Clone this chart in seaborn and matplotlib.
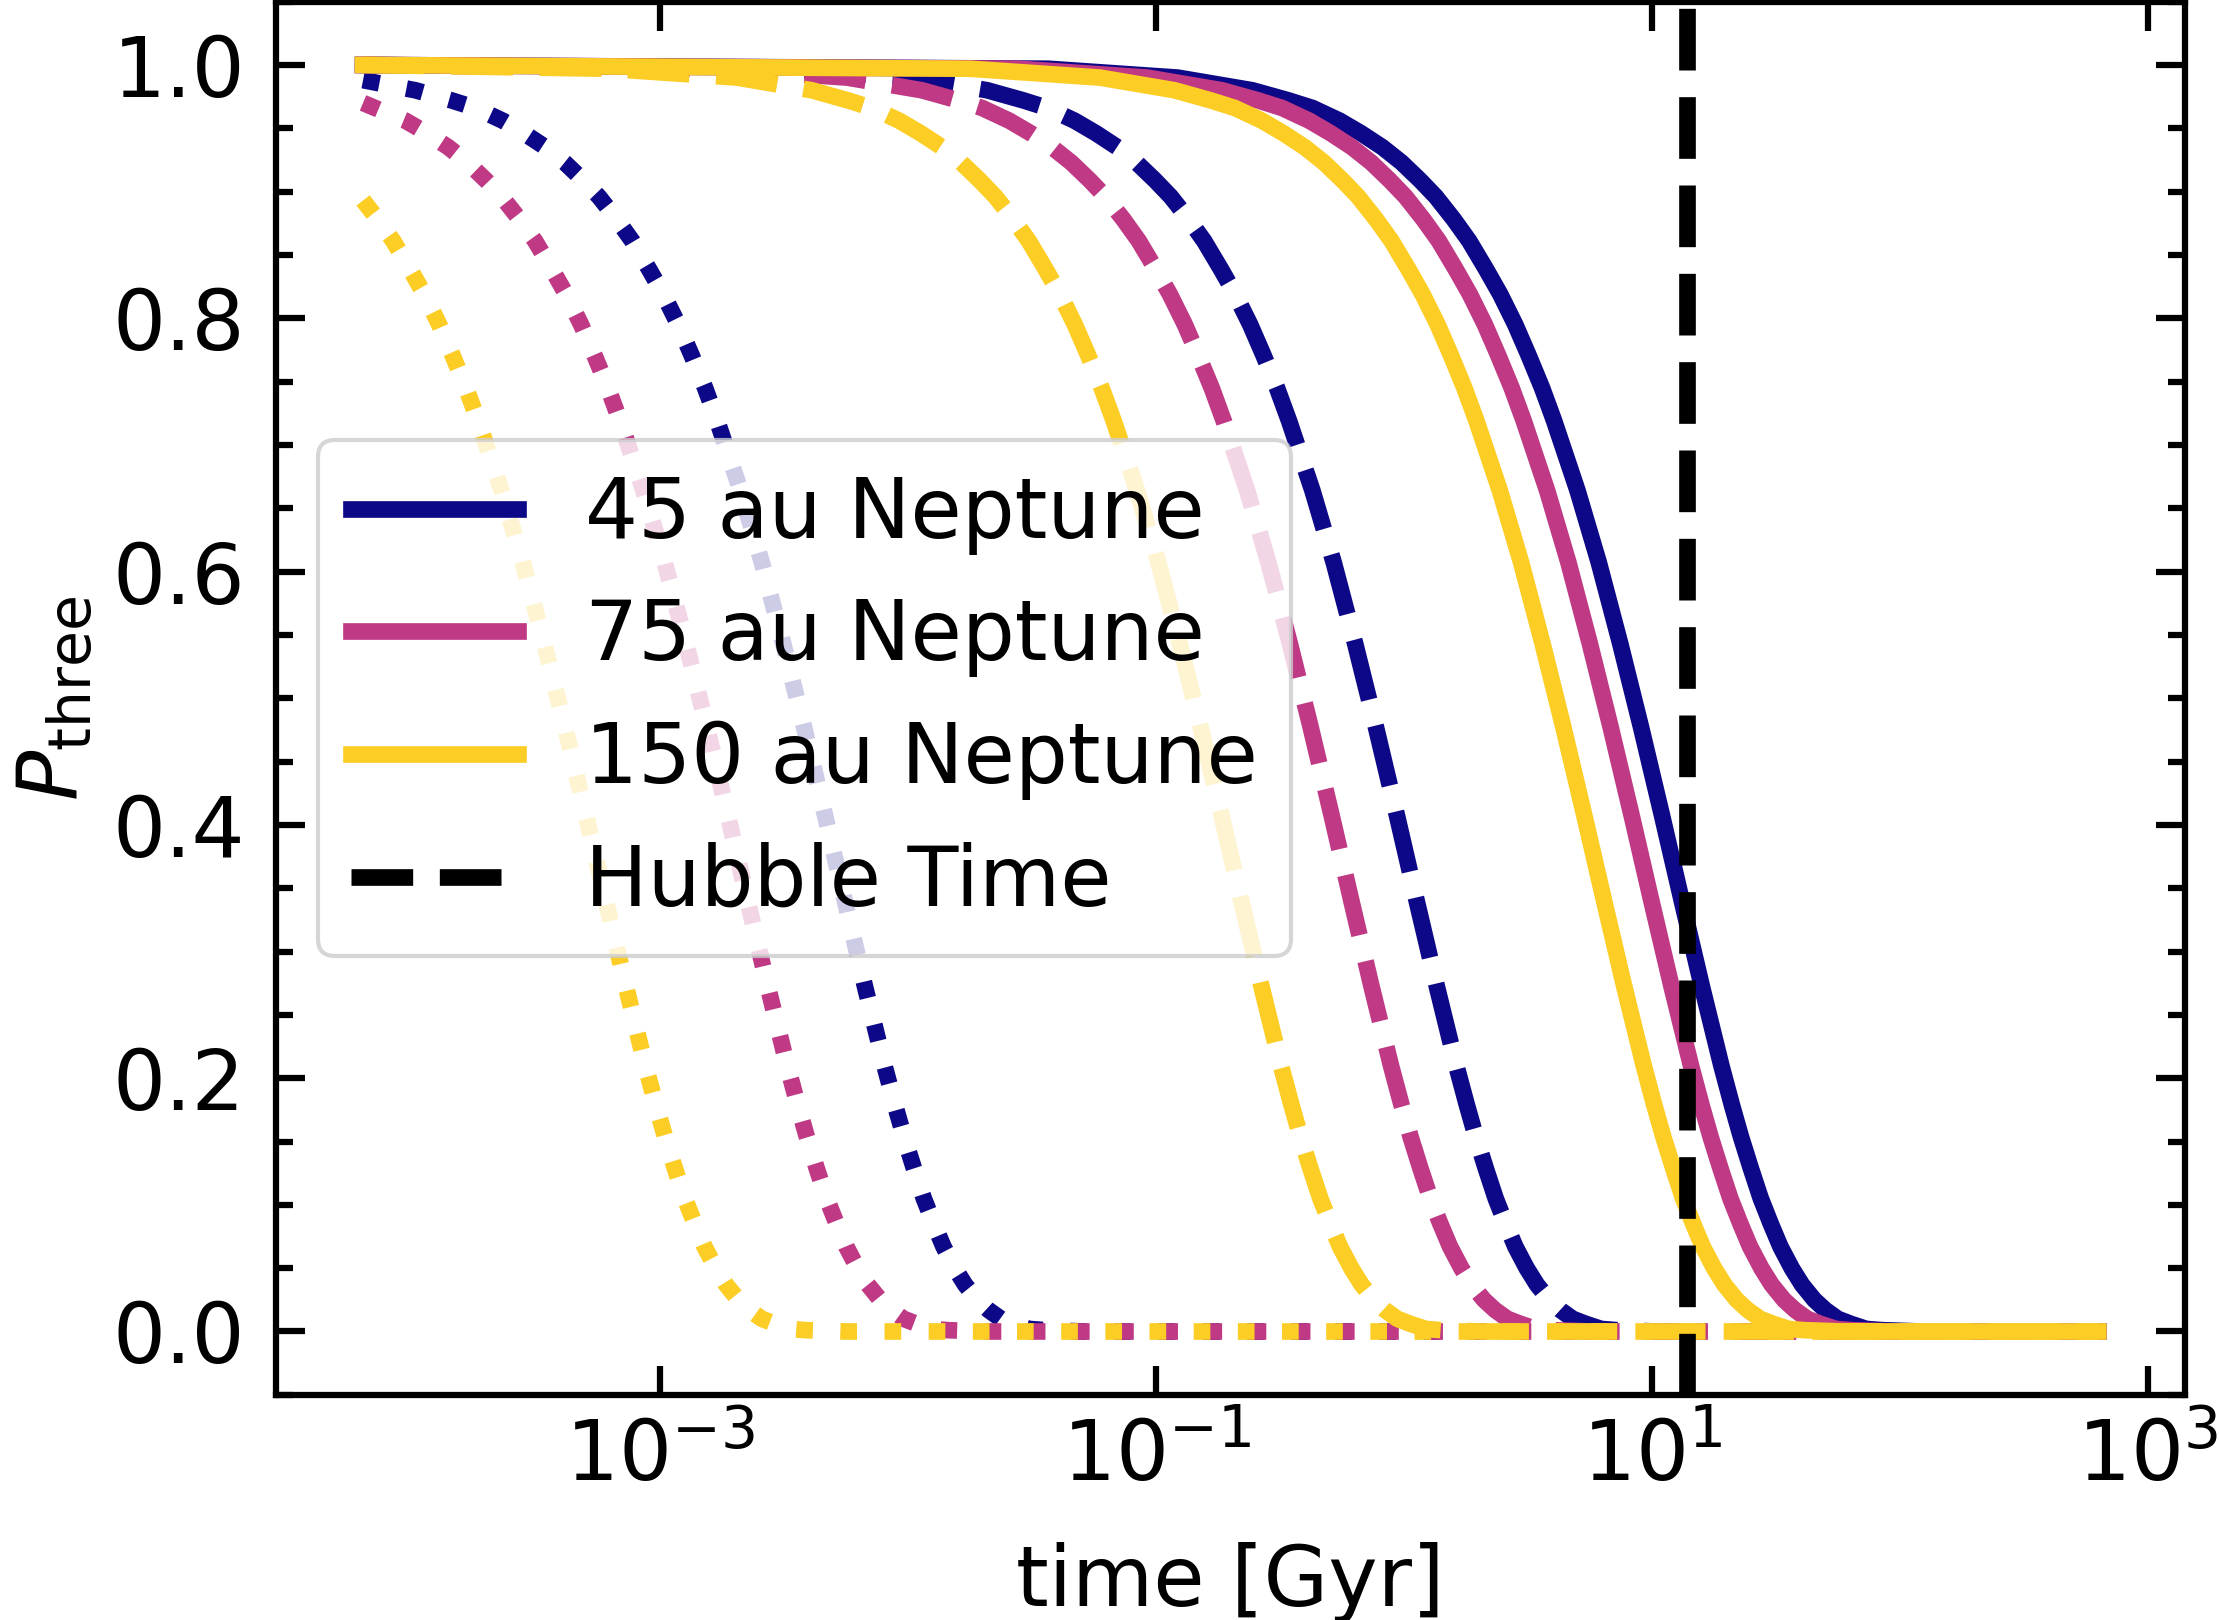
import matplotlib
matplotlib.use("Agg")
import matplotlib.pyplot as plt
import seaborn as sns
from matplotlib.ticker import MultipleLocator, NullLocator

# legend entries and colours (plasma-like)
labels = ["45 au Neptune", "75 au Neptune", "150 au Neptune"]
colors = ["#0d0887", "#bf3984", "#fccd25"]
hubble_time = 13.8

p_full = [1.0, 0.997, 0.990, 0.980, 0.972, 0.966, 0.956, 0.946, 0.935, 0.923,
          0.909, 0.896, 0.878, 0.861, 0.839, 0.819, 0.795, 0.771, 0.745, 0.719,
          0.664, 0.607, 0.543, 0.477, 0.407, 0.340, 0.273, 0.210, 0.179, 0.154,
          0.129, 0.105, 0.085, 0.067, 0.050, 0.037, 0.025, 0.017, 0.010, 0.006,
          0.002, 0.001, 0.0, 0.0]

# solid curves [Gyr]
t_45_solid = [6.31e-5, 0.0366, 0.122, 0.244, 0.3416, 0.427, 0.549, 0.671, 0.8174, 0.976,
              1.159, 1.342, 1.586, 1.83, 2.135, 2.44, 2.806, 3.172, 3.599, 4.026,
              5.002, 6.10, 7.442, 9.028, 10.98, 13.18, 15.86, 19.03, 20.98, 22.81,
              25.01, 27.45, 30.13, 32.94, 36.6, 40.26, 45.14, 50.02, 56.12, 63.44,
              73.2, 85.4, 122.0, 631.0]
t_75_solid = [6.31e-5, 0.0276, 0.092, 0.184, 0.2576, 0.322, 0.414, 0.506, 0.6164, 0.736,
              0.874, 1.012, 1.196, 1.38, 1.61, 1.84, 2.116, 2.392, 2.714, 3.036,
              3.772, 4.60, 5.612, 6.808, 8.28, 9.936, 11.96, 14.35, 15.82, 17.20,
              18.86, 20.70, 22.72, 24.84, 27.6, 30.36, 34.04, 37.72, 42.32, 47.84,
              55.2, 64.4, 92.0, 631.0]
t_150_solid = [6.31e-5, 0.0178, 0.0593, 0.1186, 0.166, 0.2076, 0.2669, 0.3262, 0.3973, 0.4744,
               0.5634, 0.6523, 0.7709, 0.8895, 1.038, 1.186, 1.364, 1.542, 1.749, 1.957,
               2.431, 2.965, 3.617, 4.388, 5.337, 6.404, 7.709, 9.251, 10.20, 11.09,
               12.16, 13.34, 14.65, 16.01, 17.79, 19.57, 21.94, 24.31, 27.28, 30.84,
               35.58, 41.51, 59.3, 631.0]

# dashed curves [Gyr]
t_45_dashed = [6.31e-5, 0.00312, 0.0104, 0.0208, 0.02912, 0.0364, 0.0468, 0.0572, 0.06968, 0.0832,
               0.0988, 0.1144, 0.1352, 0.156, 0.182, 0.208, 0.2392, 0.2704, 0.3068, 0.3432,
               0.4264, 0.520, 0.6344, 0.7696, 0.936, 1.123, 1.352, 1.622, 1.789, 1.945,
               2.132, 2.340, 2.569, 2.808, 3.12, 3.432, 3.848, 4.264, 4.784, 5.408,
               6.24, 7.28, 10.4, 631.0]
t_75_dashed = [6.31e-5, 0.0017, 0.00567, 0.01134, 0.01588, 0.01985, 0.02552, 0.03119, 0.03799, 0.04536,
               0.05387, 0.06237, 0.07371, 0.08505, 0.09923, 0.1134, 0.1304, 0.1474, 0.1673, 0.1871,
               0.2325, 0.2835, 0.3459, 0.4196, 0.5103, 0.6124, 0.7371, 0.8845, 0.9752, 1.060,
               1.162, 1.276, 1.400, 1.531, 1.701, 1.871, 2.098, 2.325, 2.608, 2.948,
               3.402, 3.969, 5.67, 631.0]
t_150_dashed = [6.31e-5, 0.000612, 0.00204, 0.00408, 0.005712, 0.00714, 0.00918, 0.01122, 0.01367, 0.01632,
                0.01938, 0.02244, 0.02652, 0.0306, 0.0357, 0.0408, 0.04692, 0.05304, 0.06018, 0.06732,
                0.08364, 0.102, 0.1244, 0.1510, 0.1836, 0.2203, 0.2652, 0.3182, 0.3509, 0.3815,
                0.4182, 0.459, 0.5039, 0.5508, 0.612, 0.6732, 0.7548, 0.8364, 0.9384, 1.061,
                1.224, 1.428, 2.04, 631.0]

# dotted curves [Gyr] (already below 1 at the first time step)
t_45_dotted = [6.31e-5, 1.026e-4, 1.436e-4, 1.796e-4, 2.309e-4, 2.822e-4, 3.437e-4, 4.104e-4, 4.874e-4,
               5.643e-4, 6.669e-4, 7.695e-4, 8.978e-4, 1.026e-3, 1.180e-3, 1.334e-3, 1.513e-3,
               1.693e-3, 2.103e-3, 2.565e-3, 3.129e-3, 3.796e-3, 4.617e-3, 5.540e-3, 6.669e-3,
               8.003e-3, 8.824e-3, 9.593e-3, 0.01052, 0.01154, 0.01267, 0.01385, 0.01539,
               0.01693, 0.01898, 0.02103, 0.0236, 0.02668, 0.03078, 0.03591, 0.0513, 631.0]
p_45_dotted = [0.988, 0.980, 0.972, 0.966, 0.956, 0.946, 0.935, 0.923, 0.909, 0.896, 0.878,
               0.861, 0.839, 0.819, 0.795, 0.771, 0.745, 0.719, 0.664, 0.607, 0.543, 0.477,
               0.407, 0.340, 0.273, 0.210, 0.179, 0.154, 0.129, 0.105, 0.085, 0.067, 0.050,
               0.037, 0.025, 0.017, 0.010, 0.006, 0.002, 0.001, 0.0, 0.0]
t_75_dotted = [6.31e-5, 9.36e-5, 1.144e-4, 1.394e-4, 1.664e-4, 1.976e-4, 2.288e-4, 2.704e-4, 3.12e-4,
               3.64e-4, 4.16e-4, 4.784e-4, 5.408e-4, 6.136e-4, 6.864e-4, 8.528e-4, 1.04e-3,
               1.269e-3, 1.539e-3, 1.872e-3, 2.246e-3, 2.704e-3, 3.245e-3, 3.578e-3, 3.89e-3,
               4.264e-3, 4.68e-3, 5.138e-3, 5.616e-3, 6.24e-3, 6.864e-3, 7.696e-3, 8.528e-3,
               9.568e-3, 0.01082, 0.01248, 0.01456, 0.0208, 631.0]
p_75_dotted = [0.970, 0.956, 0.946, 0.935, 0.923, 0.909, 0.896, 0.878, 0.861, 0.839, 0.819,
               0.795, 0.771, 0.745, 0.719, 0.664, 0.607, 0.543, 0.477, 0.407, 0.340, 0.273,
               0.210, 0.179, 0.154, 0.129, 0.105, 0.085, 0.067, 0.050, 0.037, 0.025, 0.017,
               0.010, 0.006, 0.002, 0.001, 0.0, 0.0]
t_150_dotted = [6.31e-5, 7.241e-5, 8.355e-5, 9.748e-5, 1.114e-4, 1.281e-4, 1.448e-4, 1.643e-4,
                1.838e-4, 2.284e-4, 2.785e-4, 3.398e-4, 4.122e-4, 5.013e-4, 6.016e-4, 7.241e-4,
                8.689e-4, 9.580e-4, 1.042e-3, 1.142e-3, 1.253e-3, 1.376e-3, 1.504e-3, 1.671e-3,
                1.838e-3, 2.061e-3, 2.284e-3, 2.562e-3, 2.896e-3, 3.342e-3, 3.899e-3, 5.57e-3, 631.0]
p_150_dotted = [0.893, 0.878, 0.861, 0.839, 0.819, 0.795, 0.771, 0.745, 0.719, 0.664, 0.607,
                0.543, 0.477, 0.407, 0.340, 0.273, 0.210, 0.179, 0.154, 0.129, 0.105, 0.085,
                0.067, 0.050, 0.037, 0.025, 0.017, 0.010, 0.006, 0.002, 0.001, 0.0, 0.0]

curves = [
    [(t_45_solid, p_full, "-"), (t_45_dashed, p_full, "--"), (t_45_dotted, p_45_dotted, ":")],
    [(t_75_solid, p_full, "-"), (t_75_dashed, p_full, "--"), (t_75_dotted, p_75_dotted, ":")],
    [(t_150_solid, p_full, "-"), (t_150_dashed, p_full, "--"), (t_150_dotted, p_150_dotted, ":")],
]

plt.rcParams["font.family"] = "DejaVu Sans"
plt.rcParams["font.size"] = 20
plt.rcParams["axes.linewidth"] = 1.5

fig, ax = plt.subplots(figsize=(2219 / 300, 1620 / 300), dpi=300)
fig.subplots_adjust(left=0.1245, right=0.9847, top=0.999, bottom=0.139)
ax.set_xscale("log")

handles = []
for color, label, group in zip(colors, labels, curves):
    for i, (t, p, ls) in enumerate(group):
        sns.lineplot(x=t, y=p, ax=ax, color=color, linewidth=4, linestyle=ls,
                     sort=False, errorbar=None, legend=False)
        if i == 0:
            handles.append(ax.lines[-1])

hub = ax.axvline(hubble_time, color="k", linestyle="--", linewidth=4)
handles.append(hub)

ax.set_xticks([1e-3, 1e-1, 1e1, 1e3])
ax.xaxis.set_minor_locator(NullLocator())
ax.yaxis.set_major_locator(MultipleLocator(0.2))
ax.yaxis.set_minor_locator(MultipleLocator(0.05))
ax.tick_params(which="both", direction="in", top=True, right=True, width=1.5)
ax.tick_params(which="major", length=7)
ax.tick_params(which="minor", length=4)
ax.tick_params(axis="y", pad=7.5)
ax.tick_params(axis="x", pad=5.2)
ax.tick_params(axis="both", labelsize=20)

ax.set_xlabel("time [Gyr]", fontsize=20, labelpad=10.7)
ax.set_ylabel(r"$P_{\rm three}$", fontsize=20)

ax.legend(handles, labels + ["Hubble Time"], loc="center left", fontsize=20)

fig.savefig("out.png", dpi=300)
